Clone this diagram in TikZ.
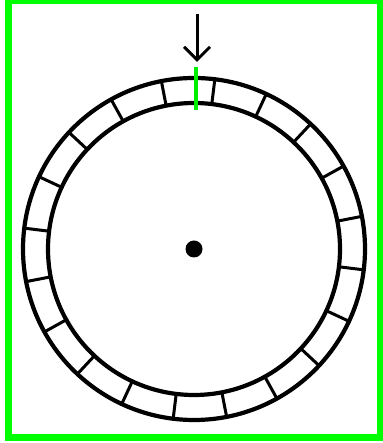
\documentclass[tikz,border=0pt]{standalone}
\usepackage{xcolor}
\usepackage{tikz}
\usetikzlibrary{arrows.meta,calc}
\definecolor{framec}{HTML}{00FF00}
\definecolor{markc}{HTML}{00EE00}
\newcommand{\ringout}{171}
\newcommand{\ringin}{146}
\newcommand{\ringdiv}[1]{%
  \draw[black,line width=3pt] ($(hub.center)+(#1:\ringin)$) -- ($(hub.center)+(#1:\ringout)$);
}

\begin{document}
\begin{tikzpicture}[x=1pt,y=1pt]
  \useasboundingbox (0,0) rectangle (382,443);
  % frame
  \draw[framec,line width=7pt] (8.7,5.3) rectangle (380.5,442.5);
  % hub
  \node[circle,fill=black,inner sep=0pt,minimum size=17pt] (hub) at (194,194) {};
  % ring
  \draw[black,line width=4.2pt] (hub.center) circle (\ringout);
  \draw[black,line width=4.2pt] (hub.center) circle (\ringin);
  \foreach \k in {0,...,19} { \pgfmathsetmacro{\a}{11+18*\k}\ringdiv{\a} }
  % marker and pointer
  \coordinate (marktop) at (196,376);
  \coordinate (markbot) at (196,333);
  \draw[markc,line width=4pt] (marktop) -- (markbot);
  \coordinate (ptrtail) at (197,429);
  \coordinate (ptrtip) at (197,381);
  \draw[black,line width=3pt,-{Straight Barb[length=13pt,width=26pt,line width=3pt]}] (ptrtail) -- (ptrtip);
\end{tikzpicture}
\end{document}
